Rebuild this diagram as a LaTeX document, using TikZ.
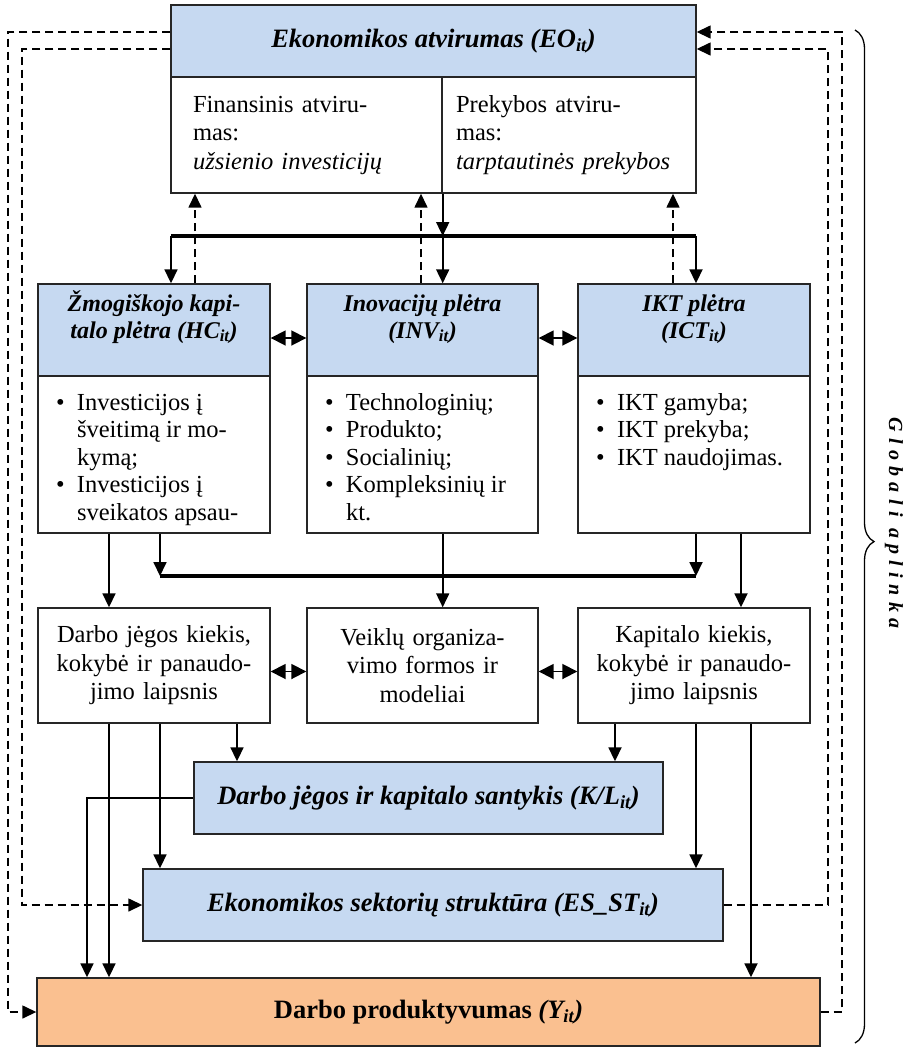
\documentclass[tikz,border=0pt]{standalone}
\usepackage{fontspec}
\setmainfont{Liberation Serif}
\newfontfamily\globfont[LetterSpace=32]{Liberation Serif}
\usetikzlibrary{arrows.meta, decorations.pathreplacing}
\definecolor{boxblue}{HTML}{C6D9F1}
\definecolor{boxorange}{HTML}{FAC090}
\newcommand{\topbox}[3]{\parbox[c][#2][t]{#1}{#3}}
\newcommand{\bul}{\makebox[21pt][l]{\textbullet}}
\newcommand{\ind}{\hspace*{21pt}}

\begin{document}
\begin{tikzpicture}[x=1pt, y=-1pt]
\tikzset{box/.style = {draw=black!85, line width=1.4pt, inner sep=0pt}}
\tikzset{tit/.style = {box, fill=boxblue, font=\fontsize{26.5}{30}\selectfont\bfseries\itshape}}
\tikzset{hdr/.style = {box, fill=boxblue, font=\fontsize{24}{27}\selectfont\bfseries\itshape}}
\tikzset{txt/.style = {box, fill=white, font=\fontsize{24.5}{28.5}\selectfont}}
\tikzset{arr/.style = {line width=1.8pt, -{Triangle[length=14pt, width=13pt]}}}
\tikzset{bar/.style = {line width=3.5pt}}
\tikzset{dbl/.style = {line width=1.8pt, {Triangle[length=15pt, width=15pt]}-{Triangle[length=15pt, width=15pt]}}}
\tikzset{fbarr/.style = {line width=1.5pt, dash pattern=on 8pt off 5pt, -{Triangle[length=14pt, width=13pt]}}}
\useasboundingbox (0,0) rectangle (910,1050);

% Ekonomikos atvirumas
\node[tit, minimum width=525pt, minimum height=72pt] (eo) at (433.5,41) {Ekonomikos atvirumas (EO\textsubscript{it})};
\node[txt, text width=227pt, inner xsep=22pt, minimum height=116pt, align=left] (fin) at (306.5,135) {Finansinis atviru-\\mas:\\\textit{užsienio investicijų}};
\node[txt, text width=226pt, inner xsep=14pt, minimum height=116pt, align=left] (prek) at (569,135) {Prekybos atviru-\\mas:\\\textit{tarptautinės prekybos}};

% trys pletros sritys
\node[hdr] (hch) at (154,330) {\topbox{232pt}{92pt}{\centering\rule{0pt}{27pt}Žmogiškojo kapi-\\talo plėtra (HC\textsubscript{it})}};
\node[hdr] (invh) at (422.5,330) {\topbox{231pt}{92pt}{\centering\rule{0pt}{27pt}Inovacijų plėtra\\(INV\textsubscript{it})}};
\node[hdr] (icth) at (694,330) {\topbox{232pt}{92pt}{\centering\rule{0pt}{27pt}IKT plėtra\\(ICT\textsubscript{it})}};
\node[txt] (hcb) at (154,454.5) {\topbox{232pt}{157pt}{\raggedright\leftskip=18pt\baselineskip=27.5pt\rule{0pt}{34pt}\bul Investicijos į\\\ind šveitimą ir mo-\\\ind kymą;\\\bul Investicijos į\\\ind sveikatos apsau-}};
\node[txt] (invb) at (422.5,454.5) {\topbox{231pt}{157pt}{\raggedright\leftskip=18pt\baselineskip=27.5pt\rule{0pt}{34pt}\bul Technologinių;\\\bul Produkto;\\\bul Socialinių;\\\bul Kompleksinių ir\\\ind kt.}};
\node[txt] (ictb) at (694,454.5) {\topbox{232pt}{157pt}{\raggedright\leftskip=18pt\baselineskip=27.5pt\rule{0pt}{34pt}\bul IKT gamyba;\\\bul IKT prekyba;\\\bul IKT naudojimas.}};

% veiksniai
\node[txt, text width=230pt, minimum width=232pt, minimum height=115pt, align=center] (lab) at (154,665.5) {Darbo jėgos kiekis,\\kokybė ir panaudo-\\jimo laipsnis};
\node[txt, text width=229pt, minimum width=231pt, minimum height=115pt, align=center] (org) at (422.5,665.5) {Veiklų organiza-\\vimo formos ir\\modeliai};
\node[txt, text width=230pt, minimum width=232pt, minimum height=115pt, align=center] (cap) at (694,665.5) {Kapitalo kiekis,\\kokybė ir panaudo-\\jimo laipsnis};

\node[tit, minimum width=469pt, minimum height=72pt] (kl) at (428.5,798) {Darbo jėgos ir kapitalo santykis (K/L\textsubscript{it})};
\node[tit, minimum width=580pt, minimum height=72pt] (es) at (433,905) {Ekonomikos sektorių struktūra (ES\_ST\textsubscript{it})};
\node[tit, fill=boxorange, minimum width=783pt, minimum height=68pt] (prod) at (428.5,1012) {{\upshape Darbo produktyvumas} (Y\textsubscript{it})};

% rodykles tarp EO ir sriciu
\coordinate (u1) at (195,0);
\coordinate (u2) at (421,0);
\coordinate (u3) at (673,0);
\draw[fbarr] (u1 |- hch.north) -- (u1 |- fin.south);
\draw[fbarr] (u2 |- invh.north) -- (u2 |- fin.south);
\draw[fbarr] (u3 |- icth.north) -- (u3 |- prek.south);
\coordinate (tbl) at (171,236);
\coordinate (tbr) at (696,236);
\draw[arr] (fin.south east) -- (fin.south east |- tbl);
\draw[bar] (tbl) -- (tbr);
\draw[arr] (tbl) -- (tbl |- hch.north);
\draw[arr] (fin.south east |- tbl) -- (fin.south east |- invh.north);
\draw[arr] (tbr) -- (tbr |- icth.north);
\draw[dbl] ([yshift=-8pt]hch.east) -- ([yshift=-8pt]invh.west);
\draw[dbl] ([yshift=-8pt]invh.east) -- ([yshift=-8pt]icth.west);

% vidurine dalis
\coordinate (d1) at (109,0);
\coordinate (d2) at (160,0);
\coordinate (d3) at (741,0);
\coordinate (mbl) at (160,576);
\coordinate (mbr) at (696,576);
\draw[arr] (d1 |- hcb.south) -- (d1 |- lab.north);
\draw[arr] (d2 |- hcb.south) -- (mbl);
\draw[arr] (tbr |- ictb.south) -- (mbr);
\draw[bar] (mbl) -- (mbr);
\draw[arr] (fin.south east |- invb.south) -- (fin.south east |- org.north);
\draw[arr] (d3 |- ictb.south) -- (d3 |- cap.north);
\draw[dbl] ([yshift=-6pt]lab.east) -- ([yshift=-6pt]org.west);
\draw[dbl] ([yshift=-6pt]org.east) -- ([yshift=-6pt]cap.west);

% apatine dalis
\coordinate (e0) at (87,0);
\coordinate (e3) at (237,0);
\coordinate (e4) at (615,0);
\coordinate (e5) at (751,0);
\draw[arr] (d1 |- lab.south) -- (d1 |- prod.north);
\draw[arr] (d2 |- lab.south) -- (d2 |- es.north);
\draw[arr] (e3 |- lab.south) -- (e3 |- kl.north);
\draw[arr] (e4 |- cap.south) -- (e4 |- kl.north);
\draw[arr] (tbr |- cap.south) -- (tbr |- es.north);
\draw[arr] (e5 |- cap.south) -- (e5 |- prod.north);
\draw[arr] (kl.west) -| (e0 |- prod.north);

% gryztamieji rysiai
\coordinate (fl1) at (8,32);
\coordinate (fl2) at (22,49);
\coordinate (fr1) at (842,32);
\coordinate (fr2) at (828,49);
\draw[fbarr] (eo.west |- fl1) -- (fl1) -- (fl1 |- prod.west) -- (prod.west);
\draw[fbarr] (eo.west |- fl2) -- (fl2) -- (fl2 |- es.west) -- (es.west);
\draw[fbarr] (prod.east) -- (fr1 |- prod.east) -- (fr1) -- (eo.east |- fr1);
\draw[fbarr] (es.east) -- (fr2 |- es.east) -- (fr2) -- (eo.east |- fr2);

% globali aplinka
\coordinate (gtop) at (855,30);
\coordinate (gbot) at (855,1043);
\draw[line width=1.3pt, decorate, decoration={brace, amplitude=19pt, aspect=0.505}] (gtop) -- (gbot);
\node[font=\globfont\fontsize{20}{20}\selectfont\bfseries\itshape, rotate=-90] (glob) at (894,523) {Globali aplinka};
\end{tikzpicture}
\end{document}
